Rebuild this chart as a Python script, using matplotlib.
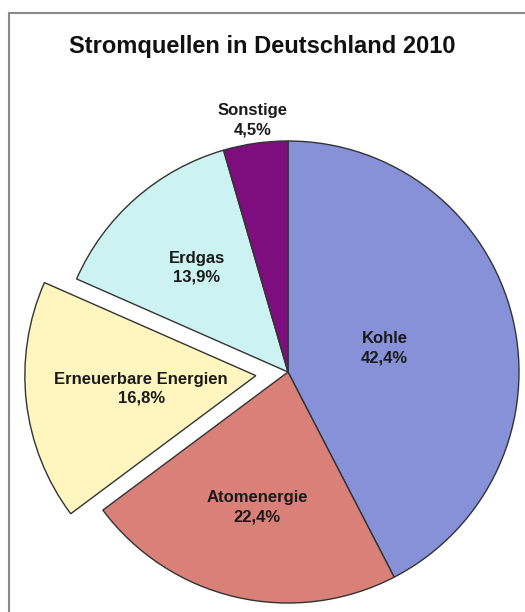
import numpy as np
import matplotlib.pyplot as plt
from matplotlib.patches import Rectangle

plt.rcParams['font.family'] = ['Liberation Sans', 'DejaVu Sans']

# Daten
quellen = ['Kohle', 'Atomenergie', 'Erneuerbare Energien', 'Erdgas', 'Sonstige']
anteile = [42.4, 22.4, 16.8, 13.9, 4.5]
farben = ['#8791D7', '#D98079', '#FFF5BE', '#CCF2F2', '#7E0E7E']
explode = [0, 0, 0.14, 0, 0]
label_dist = [0.43, 0.6, 0.5, 0.6, 1.1]

fig = plt.figure(figsize=(5.25, 6.12), dpi=100)
ax = fig.add_axes([0, 0, 1, 1])

wedges, _ = ax.pie(anteile, colors=farben, explode=explode, startangle=90,
                   counterclock=False, radius=1,
                   wedgeprops=dict(edgecolor='#333333', linewidth=1.0))

for w, name, val, d in zip(wedges, quellen, anteile, label_dist):
    ang = np.deg2rad((w.theta1 + w.theta2) / 2)
    cx, cy = w.center
    txt = f"{name}\n{val:.1f}%".replace('.', ',')
    ax.text(cx + d * np.cos(ang), cy + d * np.sin(ang), txt, ha='center', va='center',
            fontsize=12, fontweight='bold', color='#1a1a1a', linespacing=1.35)

# Skala: 231 px pro Einheit, Mittelpunkt bei (288, 372) px
r_px = 231
ax.set_xlim(-288 / r_px, (525 - 288) / r_px)
ax.set_ylim(-(612 - 372) / r_px, 372 / r_px)
ax.set_aspect('auto')
ax.axis('off')

fig.text(262 / 525, 1 - 46 / 612, 'Stromquellen in Deutschland 2010', ha='center', va='center',
         fontsize=17, fontweight='bold', color='#111111')

# Rahmen
fig.add_artist(Rectangle((9 / 525, -0.1), 1.2, (612 - 13) / 612 + 0.1, transform=fig.transFigure,
                         fill=False, edgecolor='#8a8a8a', linewidth=1.5))

fig.savefig('out.png', dpi=100)
